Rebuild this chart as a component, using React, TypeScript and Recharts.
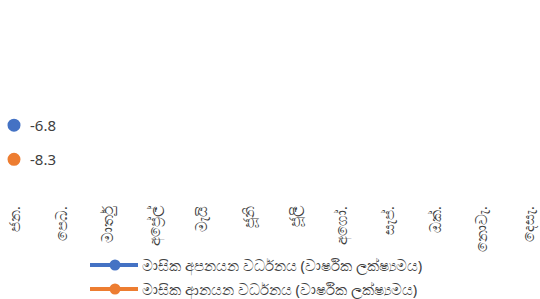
import { LineChart, Line, XAxis, YAxis, Legend, LabelList } from 'recharts';

const months = ['ජන.', 'පෙබ.', 'මාර්තු', 'අප්‍රේල්', 'මැයි', 'ජූනි', 'ජූලි', 'අගෝ.', 'සැප්.', 'ඔක්.', 'නොවැ.', 'දෙසැ.'];
const exportGrowth: (number | null)[] = [-6.8, null, null, null, null, null, null, null, null, null, null, null];
const importGrowth: (number | null)[] = [-8.3, null, null, null, null, null, null, null, null, null, null, null];

const seriesNames = ['මාසික අපනයන වර්ධනය (වාර්ෂික ලක්ෂ්‍යමය)', 'මාසික ආනයන වර්ධනය (වාර්ෂික ලක්ෂ්‍යමය)'];
const seriesColors = ['#4472C4', '#ED7D31'];

const data = months.map((m, i) => ({ month: m, exp: exportGrowth[i], imp: importGrowth[i] }));

const font = "'Noto Sans', 'Open Sans', sans-serif";

const MonthTick = ({ x, y, payload }: any) => (
  <text
    x={x}
    y={y}
    transform={`rotate(-90, ${x}, ${y})`}
    textAnchor="end"
    dominantBaseline="central"
    fontSize={14.5}
    fill="#404040"
    fontFamily={font}
  >
    {payload.value}
  </text>
);

const LegendBox = () => (
  <div style={{ height: 50, paddingTop: 4, boxSizing: 'border-box', fontFamily: font }}>
    {seriesNames.map((name, i) => (
      <div key={name} style={{ height: 24, display: 'flex', alignItems: 'center' }}>
        <svg width={48} height={12} style={{ marginRight: 4 }}>
          <line x1={0} y1={6} x2={48} y2={6} stroke={seriesColors[i]} strokeWidth={4} strokeLinecap="round" />
          <circle cx={25} cy={6} r={5.5} fill={seriesColors[i]} />
        </svg>
        <span style={{ fontSize: 14.8, color: '#404040', whiteSpace: 'nowrap' }}>{name}</span>
      </div>
    ))}
  </div>
);

export default function App() {
  return (
    <div style={{ position: 'absolute', left: 0, top: 0, background: '#fff' }}>
      <LineChart width={540} height={299} data={data} margin={{ top: 16, right: 12, bottom: 0, left: 14 }}>
        <XAxis
          dataKey="month"
          axisLine={false}
          tickLine={false}
          interval={0}
          height={51}
          tick={<MonthTick />}
        />
        <YAxis hide domain={[-10, -2]} />
        <Legend
          verticalAlign="bottom"
          content={<LegendBox />}
          wrapperStyle={{ left: 90, width: 420 }}
        />
        <Line
          dataKey="exp"
          name={seriesNames[0]}
          stroke={seriesColors[0]}
          strokeWidth={3}
          dot={{ r: 5, fill: seriesColors[0], stroke: seriesColors[0] }}
          isAnimationActive={false}
        >
          <LabelList dataKey="exp" position="right" offset={16} fill="#404040" fontSize={15} fontFamily={font} />
        </Line>
        <Line
          dataKey="imp"
          name={seriesNames[1]}
          stroke={seriesColors[1]}
          strokeWidth={3}
          dot={{ r: 5, fill: seriesColors[1], stroke: seriesColors[1] }}
          isAnimationActive={false}
        >
          <LabelList dataKey="imp" position="right" offset={16} fill="#404040" fontSize={15} fontFamily={font} />
        </Line>
      </LineChart>
    </div>
  );
}
